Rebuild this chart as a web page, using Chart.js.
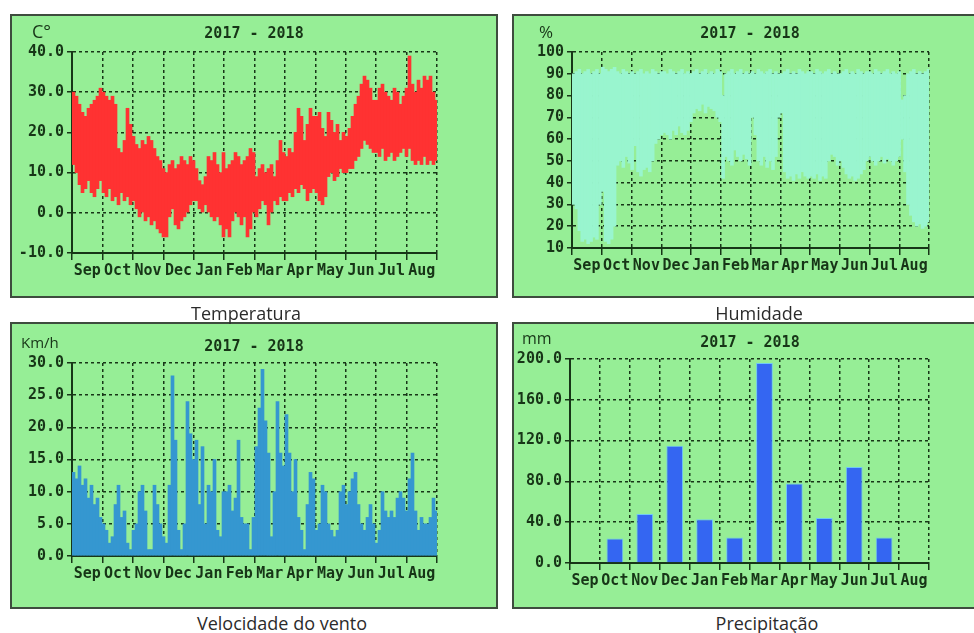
<!DOCTYPE html>
<html>
<head>
<meta charset="utf-8">
<title>Clima 2017 - 2018</title>
<script src="https://cdn.jsdelivr.net/npm/chart.js@4.4.1/dist/chart.umd.min.js"></script>
<style>
  html, body { margin: 0; padding: 0; background: #fff; }
  body { position: relative; width: 974px; height: 633px; overflow: hidden; }
  .panel { position: absolute; background: #96ee96; border: 2px solid #3e4c3e; box-sizing: border-box; }
  .plot { position: absolute; }
  .title { position: absolute; font: bold 15px "DejaVu Sans Mono", monospace; color: #173517;
           transform: translate(-50%, -50%); white-space: nowrap; }
  .unit { position: absolute; font-family: "Open Sans", sans-serif; color: #173517;
          transform: translateY(-50%); white-space: nowrap; }
  .caption { position: absolute; font: 18px "Open Sans", sans-serif; color: #2b2b2b;
             transform: translate(-50%, -50%); white-space: nowrap; }
</style>
</head>
<body>

<div class="panel" style="left:10px;top:14px;width:488px;height:284px"></div>
<div class="panel" style="left:512px;top:14px;width:480px;height:284px"></div>
<div class="panel" style="left:10px;top:322px;width:488px;height:287px"></div>
<div class="panel" style="left:512px;top:322px;width:480px;height:287px"></div>

<div class="plot" style="left:10px;top:14px;width:487px;height:283px"><canvas id="tempChart"></canvas></div>
<div class="plot" style="left:512px;top:14px;width:460px;height:283px"><canvas id="humChart"></canvas></div>
<div class="plot" style="left:10px;top:322px;width:487px;height:286px"><canvas id="windChart"></canvas></div>
<div class="plot" style="left:512px;top:322px;width:460px;height:286px"><canvas id="rainChart"></canvas></div>

<div class="unit" style="left:32px;top:31px;font-size:18px">C°</div>
<div class="title" style="left:254px;top:33px">2017 - 2018</div>
<div class="unit" style="left:539px;top:31px;font-size:17px">%</div>
<div class="title" style="left:750px;top:33px">2017 - 2018</div>
<div class="unit" style="left:21px;top:342px;font-size:15px">Km/h</div>
<div class="title" style="left:254px;top:346px">2017 - 2018</div>
<div class="unit" style="left:522px;top:338px;font-size:16px">mm</div>
<div class="title" style="left:750px;top:342px">2017 - 2018</div>

<div class="caption" style="left:246px;top:313px">Temperatura</div>
<div class="caption" style="left:759px;top:313px">Humidade</div>
<div class="caption" style="left:282px;top:623px">Velocidade do vento</div>
<div class="caption" style="left:767px;top:623px">Precipitação</div>

<script>
// months of the hydrological year, Sep 2017 .. Aug 2018
const months = ['Sep', 'Oct', 'Nov', 'Dec', 'Jan', 'Feb', 'Mar', 'Apr', 'May', 'Jun', 'Jul', 'Aug'];
const DAYS = 365;
const DAY_STEP = 3; // one sample every 3 days

// temperature (C) - daily max / min, 3-day samples
const tempMax = [
  30, 29, 27, 25, 24, 26, 27, 28, 29, 31,
  30, 29, 28, 29, 27, 16, 15, 18, 26, 22, 19,
  17, 16, 18, 17, 19, 18, 16, 14, 13, 11,
  10, 12, 13, 11, 12, 14, 13, 12, 14, 13,
  11, 8, 7, 9, 14, 13, 15, 12, 10, 15,
  11, 12, 13, 15, 14, 12, 13, 14, 16, 15,
  9, 11, 12, 10, 11, 12, 9, 13, 18, 15,
  14, 16, 15, 20, 26, 24, 18, 22, 26, 24,
  24, 25, 21, 19, 25, 23, 20, 22, 18, 20,
  19, 21, 24, 27, 29, 32, 34, 33, 31, 28,
  28, 31, 32, 30, 29, 28, 31, 30, 27, 29, 31,
  39, 32, 30, 33, 31, 34, 33, 34, 30, 28
];
const tempMin = [
  12, 10, 7, 5, 6, 8, 5, 4, 6, 8,
  5, 4, 6, 3, 4, 2, 5, 3, 4, 2, 3,
  1, -1, 0, -2, -1, -3, -2, -4, -5, -6,
  -6, -1, 1, -3, -4, -2, -1, 0, 2, 3,
  3, 1, 0, 2, 0, -1, -2, -1, -3, -6,
  -4, -6, -2, 0, -1, -3, -1, -6, -4, 0,
  -1, 1, 3, 2, -3, 0, 3, 2, 4, 3,
  3, 5, 4, 6, 5, 7, 6, 3, 5, 6,
  5, 3, 2, 4, 9, 10, 8, 9, 11, 10,
  10, 11, 11, 13, 14, 16, 18, 17, 16, 15,
  15, 14, 16, 13, 14, 15, 13, 14, 15, 16, 14,
  16, 13, 12, 13, 12, 14, 12, 13, 12, 13
];

// relative humidity (%) - daily max / min, 3-day samples
const humMax = [
  90, 91, 92, 90, 91, 92, 90, 91, 92, 90,
  93, 92, 91, 92, 93, 91, 90, 92, 91, 90, 91,
  90, 91, 92, 90, 91, 90, 92, 91, 90, 91,
  91, 90, 92, 91, 90, 91, 92, 90, 91, 90,
  91, 92, 90, 91, 92, 90, 91, 90, 92, 91,
  80, 90, 91, 92, 90, 91, 92, 90, 91, 90,
  91, 90, 92, 91, 90, 91, 92, 90, 91, 90,
  90, 91, 92, 90, 91, 90, 92, 91, 90, 91,
  91, 90, 92, 91, 90, 91, 92, 90, 91, 90,
  90, 91, 92, 90, 91, 90, 92, 91, 90, 91,
  91, 90, 92, 91, 90, 91, 92, 90, 91, 90, 91,
  78, 80, 90, 91, 92, 90, 91, 90, 91, 92
];
const humMin = [
  30, 28, 18, 13, 14, 12, 13, 15, 14, 30,
  36, 13, 12, 14, 20, 48, 50, 47, 52, 49, 46,
  57, 45, 43, 46, 47, 45, 50, 58, 60, 62,
  63, 62, 60, 64, 62, 66, 63, 62, 64, 68,
  72, 74, 73, 76, 72, 75, 74, 73, 70, 68,
  42, 52, 50, 48, 55, 52, 50, 53, 51, 48,
  70, 62, 50, 48, 52, 47, 50, 46, 52, 70,
  72, 45, 42, 43, 41, 44, 42, 45, 43, 42,
  43, 42, 44, 41, 43, 42, 50, 53, 52, 48,
  50, 47, 44, 42, 43, 41, 42, 44, 46, 50,
  52, 50, 48, 50, 52, 49, 51, 50, 48, 50, 52,
  60, 45, 30, 25, 22, 20, 21, 19, 20, 22
];

// wind speed (km/h), 3-day samples
const windSpeed = [
  13, 12, 14, 11, 12, 9, 11, 8, 9, 6,
  5, 4, 2, 3, 8, 11, 6, 7, 2, 1, 4,
  5, 10, 11, 7, 1, 1, 11, 8, 5, 3,
  2, 11, 28, 18, 4, 1, 5, 24, 19, 15,
  18, 8, 17, 5, 11, 10, 15, 4, 3, 10,
  10, 11, 7, 9, 18, 6, 5, 5, 1, 6,
  17, 23, 29, 21, 16, 3, 10, 24, 16, 14,
  22, 16, 10, 15, 6, 4, 1, 8, 13, 12,
  4, 5, 11, 10, 5, 4, 3, 4, 10, 11,
  8, 10, 12, 13, 8, 5, 4, 6, 8, 5,
  2, 4, 10, 7, 6, 7, 6, 9, 10, 9, 7,
  12, 16, 7, 4, 6, 5, 5, 6, 9, 7
];

// monthly rainfall (mm)
const rainMonthly = [0, 24, 48, 115, 43, 25, 196, 78, 44, 94, 25, 0];

const ink = '#173517';
const tickFont = { family: '"DejaVu Sans Mono", monospace', size: 15, weight: 'bold' };

// place each 3-day sample in the middle of its day span
const toDays = (highs, lows) => highs.map((v, i) => ({
    x: i * DAY_STEP + DAY_STEP / 2,
    y: lows ? [lows[i], v] : v
}));

const dailyBars = (data, color) => ({
    data: data,
    xAxisID: 'xd',
    backgroundColor: color,
    borderWidth: 0,
    barPercentage: 1,
    categoryPercentage: 1
});

const makeChart = (id, cfg) => {
    return new Chart(document.getElementById(id), {
        type: 'bar',
        data: { labels: months, datasets: cfg.datasets },
        options: {
            responsive: true,
            maintainAspectRatio: false,
            animation: false,
            layout: { padding: cfg.pad },
            plugins: { legend: { display: false }, tooltip: { enabled: false } },
            scales: {
                x: {
                    type: 'category',
                    offset: true,
                    grid: { offset: true, color: ink, lineWidth: 1.5, tickLength: 7, tickColor: ink, tickWidth: 1.5 },
                    border: { display: true, color: ink, width: 2, dash: [3, 3] },
                    ticks: { font: tickFont, color: ink, padding: 2, autoSkip: false, maxRotation: 0 },
                    afterFit: s => { s.height = 30; }
                },
                xd: {
                    type: 'linear',
                    axis: 'x',
                    position: 'bottom',
                    display: false,
                    offset: false,
                    min: 0,
                    max: DAYS,
                    grid: { offset: false }
                },
                y: {
                    min: cfg.yMin,
                    max: cfg.yMax,
                    beginAtZero: false,
                    grid: { color: ink, lineWidth: 1.5, tickLength: 5, tickColor: ink, tickWidth: 1.5 },
                    border: { display: true, color: ink, width: 2, dash: [3, 3] },
                    ticks: { stepSize: cfg.yStep, font: tickFont, color: ink, padding: 3, callback: cfg.yLabel },
                    afterFit: s => { s.width = cfg.yWidth; }
                }
            }
        }
    });
};

// Temperatura
makeChart('tempChart', {
    datasets: [dailyBars(toDays(tempMax, tempMin), '#ff3232')],
    yMin: -10, yMax: 40, yStep: 5,
    yLabel: v => (v % 10 === 0 ? v.toFixed(1) : ''),
    yWidth: 62,
    pad: { left: 0, top: 38, right: 60, bottom: 14 }
});

// Humidade
makeChart('humChart', {
    datasets: [dailyBars(toDays(humMax, humMin), '#99f5cf')],
    yMin: 10, yMax: 100, yStep: 10,
    yLabel: v => String(v),
    yWidth: 60,
    pad: { left: 0, top: 38, right: 43, bottom: 19 }
});

// Velocidade do vento
makeChart('windChart', {
    datasets: [dailyBars(toDays(windSpeed), '#3597d0')],
    yMin: 0, yMax: 30, yStep: 5,
    yLabel: v => v.toFixed(1),
    yWidth: 62,
    pad: { left: 0, top: 41, right: 60, bottom: 22 }
});

// Precipitação
makeChart('rainChart', {
    datasets: [{
        data: rainMonthly,
        xAxisID: 'x',
        backgroundColor: '#3466f2',
        borderColor: '#6fc8f5',
        borderWidth: 1,
        barPercentage: 0.56,
        categoryPercentage: 1
    }],
    yMin: 0, yMax: 200, yStep: 20,
    yLabel: v => (v % 40 === 0 ? v.toFixed(1) : ''),
    yWidth: 58,
    pad: { left: 0, top: 37, right: 43, bottom: 15 }
});
</script>
</body>
</html>
